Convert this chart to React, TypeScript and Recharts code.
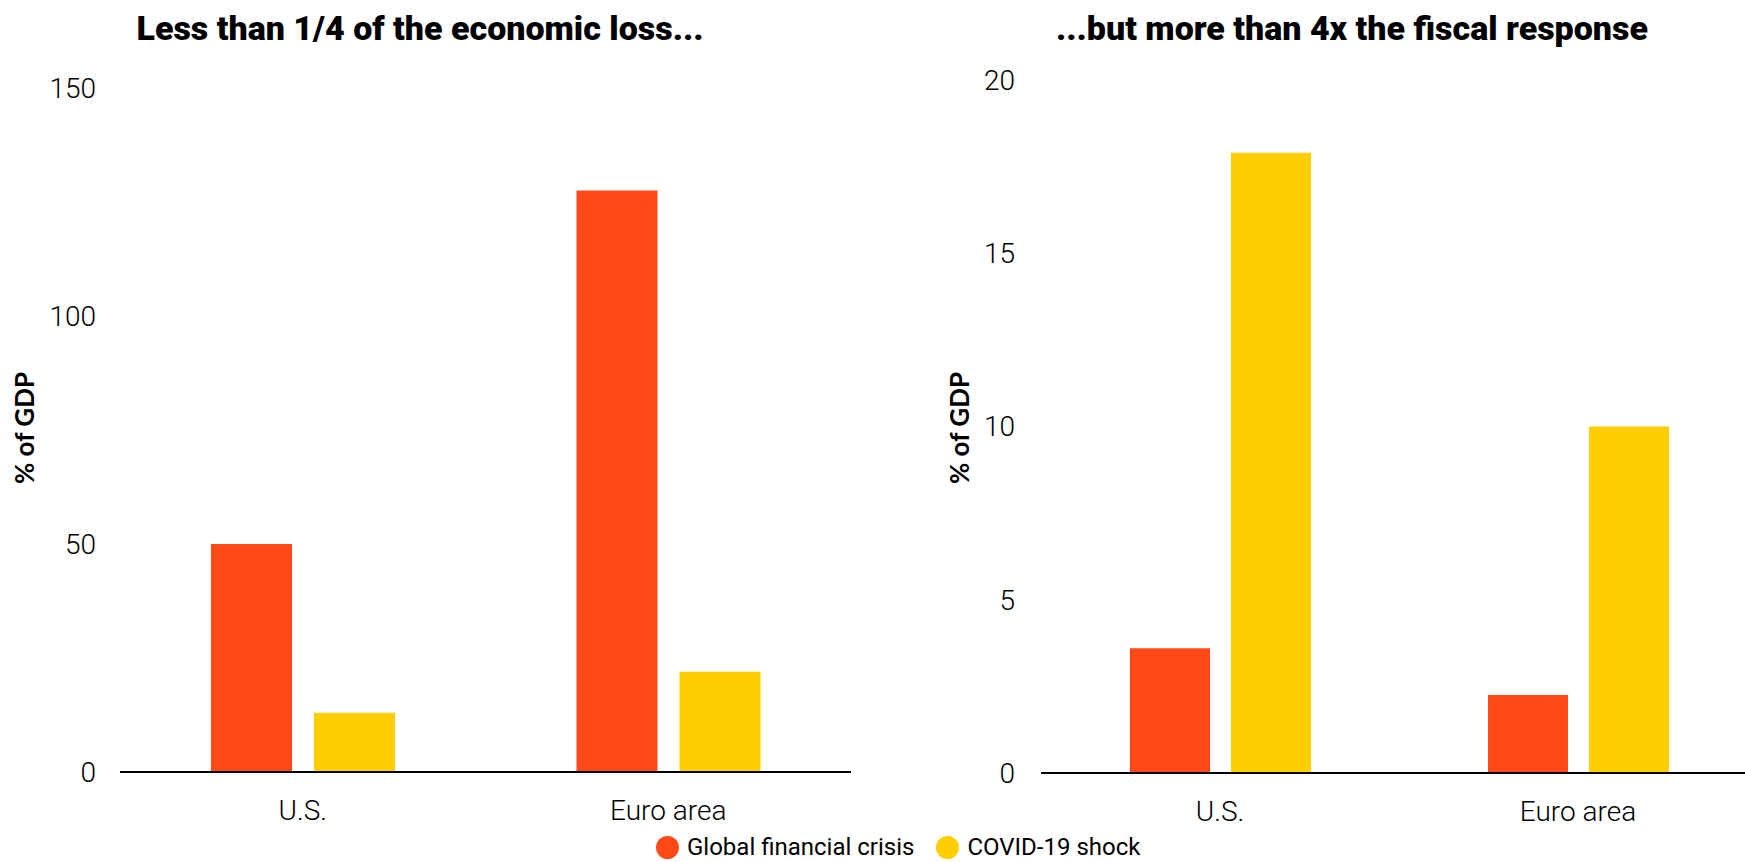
import { Bar, BarChart, XAxis, YAxis } from 'recharts';

const categories = ['U.S.', 'Euro area'];
const seriesNames = ['Global financial crisis', 'COVID-19 shock'];
const seriesColors = ['#FF4A17', '#FFCE00'];

// economic loss, % of GDP
const lossGfc = [50, 127.5];
const lossCovid = [13, 22];
const lossTicks = [0, 50, 100, 150];

// fiscal response, % of GDP
const fiscalGfc = [3.6, 2.25];
const fiscalCovid = [17.9, 10];
const fiscalTicks = [0, 5, 10, 15, 20];

const lossData = categories.map((name, i) => ({ name, gfc: lossGfc[i], covid: lossCovid[i] }));
const fiscalData = categories.map((name, i) => ({ name, gfc: fiscalGfc[i], covid: fiscalCovid[i] }));

const FONT = 'Roboto, sans-serif';
const tickStyle = { fontSize: 28, fontWeight: 300, fill: '#000', fontFamily: FONT };

const titleStyle: React.CSSProperties = {
  position: 'absolute',
  top: 8,
  fontFamily: FONT,
  fontWeight: 900,
  fontSize: 34,
  color: '#000',
  whiteSpace: 'nowrap',
  transform: 'translateX(-50%)',
  lineHeight: '40px',
};

const yLabelStyle: React.CSSProperties = {
  position: 'absolute',
  fontFamily: 'Lato, sans-serif',
  fontWeight: 700,
  fontSize: 26,
  color: '#000',
  whiteSpace: 'nowrap',
  transform: 'translate(-50%, -50%) rotate(-90deg)',
};

export default function App() {
  return (
    <div style={{ position: 'absolute', left: 0, top: 0, width: 1745, height: 862, overflow: 'hidden', background: '#fff' }}>
      {/* Left panel */}
      <div style={{ ...titleStyle, left: 420 }}>Less than 1/4 of the economic loss...</div>
      <div style={{ ...yLabelStyle, left: 24, top: 428 }}>% of GDP</div>
      <div style={{ position: 'absolute', left: 0, top: 0 }}>
        <BarChart width={851} height={862} data={lossData} margin={{ top: 88, right: 0, bottom: 0, left: 0 }} barSize={81} barGap={22}>
          <XAxis dataKey="name" height={90} tickSize={0} tickMargin={28} tick={tickStyle} axisLine={{ stroke: '#000', strokeWidth: 2 }} />
          <YAxis width={120} domain={[0, 150]} ticks={lossTicks} tickSize={0} tickMargin={24} axisLine={false} tick={tickStyle} />
          <Bar dataKey="gfc" name={seriesNames[0]} fill={seriesColors[0]} isAnimationActive={false} />
          <Bar dataKey="covid" name={seriesNames[1]} fill={seriesColors[1]} isAnimationActive={false} />
        </BarChart>
      </div>

      {/* Right panel */}
      <div style={{ ...titleStyle, left: 1352 }}>...but more than 4x the fiscal response</div>
      <div style={{ ...yLabelStyle, left: 959, top: 428 }}>% of GDP</div>
      <div style={{ position: 'absolute', left: 870, top: 0 }}>
        <BarChart width={887} height={862} data={fiscalData} margin={{ top: 80, right: 0, bottom: 0, left: 0 }} barSize={80} barGap={21}>
          <XAxis dataKey="name" height={89} tickSize={0} tickMargin={28} tick={tickStyle} axisLine={{ stroke: '#000', strokeWidth: 2 }} />
          <YAxis width={171} domain={[0, 20]} ticks={fiscalTicks} tickSize={0} tickMargin={26} axisLine={false} tick={tickStyle} />
          <Bar dataKey="gfc" name={seriesNames[0]} fill={seriesColors[0]} isAnimationActive={false} />
          <Bar dataKey="covid" name={seriesNames[1]} fill={seriesColors[1]} isAnimationActive={false} />
        </BarChart>
      </div>

      {/* Legend */}
      <div style={{ position: 'absolute', left: 656, top: 834, display: 'flex', alignItems: 'center', fontFamily: FONT, fontSize: 24, lineHeight: '26px', color: '#000', whiteSpace: 'nowrap' }}>
        {seriesNames.map((n, i) => (
          <div key={n} style={{ display: 'flex', alignItems: 'center', marginRight: 22 }}>
            <span style={{ display: 'inline-block', width: 23, height: 23, borderRadius: '50%', background: seriesColors[i], marginRight: 8 }} />
            <span>{n}</span>
          </div>
        ))}
      </div>
    </div>
  );
}
